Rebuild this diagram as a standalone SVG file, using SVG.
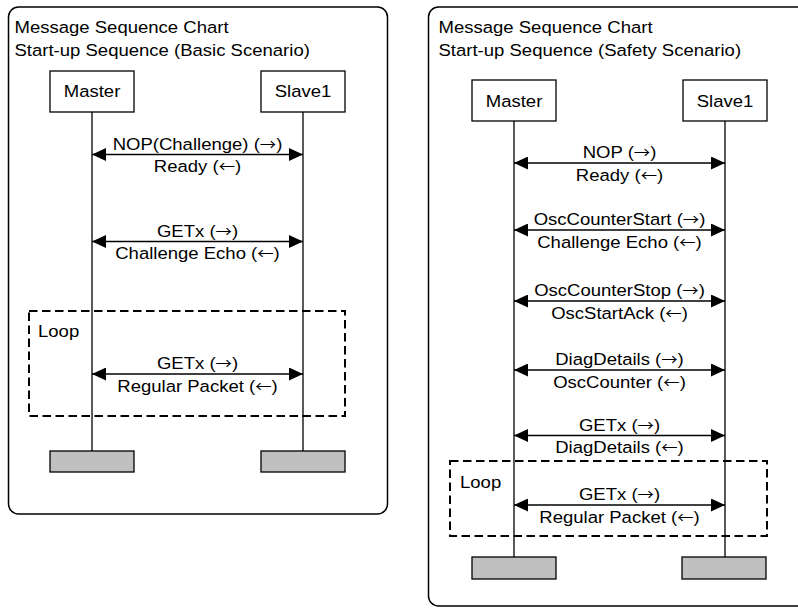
<svg xmlns="http://www.w3.org/2000/svg" width="798" height="608" viewBox="0 0 798 608">
<style>
  text { font-family: "Liberation Sans", Arial, sans-serif; font-size: 17px; fill: #000; }
  .m { text-anchor: middle; }
  .ar { font-family: "Noto Sans CJK SC", "DejaVu Sans", sans-serif; font-size: 15px; }
  .panel { fill: #fff; stroke: #000; stroke-width: 1.5; }
  .box { fill: #fff; stroke: #000; stroke-width: 1.3; }
  .end { fill: #c0c0c0; stroke: #000; stroke-width: 1.3; }
  .life { stroke: #000; stroke-width: 1.3; fill: none; }
  .loop { fill: none; stroke: #000; stroke-width: 2; stroke-dasharray: 8.5 4.5; }
  .msg { stroke: #000; stroke-width: 1.3; fill: none; marker-start: url(#ah); marker-end: url(#ah); }
</style>
<defs>
  <marker id="ah" viewBox="0 0 14 13" refX="14" refY="6.5" markerWidth="14" markerHeight="13" markerUnits="userSpaceOnUse" orient="auto-start-reverse">
    <path d="M0,0 L14,6.5 L0,13 z" fill="#000"/>
  </marker>
</defs>
<rect width="798" height="608" fill="#fff"/>

<!-- Left panel: Basic Scenario -->
<g id="panel-basic">
  <rect class="panel" x="8.5" y="7" width="379" height="507" rx="10"/>
  <text transform="translate(14.5 33) scale(1.09 1)">Message Sequence Chart</text>
  <text transform="translate(14.5 56) scale(1.09 1)">Start-up Sequence (Basic Scenario)</text>
</g>
<g id="basic-loop">
  <rect class="loop" x="29" y="311" width="316" height="105"/>
  <text transform="translate(38 337) scale(1.09 1)">Loop</text>
</g>
<g id="basic-master">
  <rect class="box" x="50" y="71" width="84" height="41"/>
  <text class="m" transform="translate(92 97) scale(1.09 1)">Master</text>
  <line class="life" x1="92" y1="112" x2="92" y2="451"/>
  <rect class="end" x="50" y="451" width="84" height="21"/>
</g>
<g id="basic-slave1">
  <rect class="box" x="261" y="71" width="84" height="41"/>
  <text class="m" transform="translate(303 97) scale(1.09 1)">Slave1</text>
  <line class="life" x1="303" y1="112" x2="303" y2="451"/>
  <rect class="end" x="261" y="451" width="84" height="21"/>
</g>
<g id="basic-connectors">
  <line class="msg" x1="92" y1="154.5" x2="303" y2="154.5"/>
  <text class="m" transform="translate(197.5 149.5) scale(1.09 1)">NOP(Challenge) (<tspan class="ar">→</tspan>)</text>
  <text class="m" transform="translate(197.5 172) scale(1.09 1)">Ready (<tspan class="ar">←</tspan>)</text>
  <line class="msg" x1="92" y1="241.5" x2="303" y2="241.5"/>
  <text class="m" transform="translate(197.5 236.5) scale(1.09 1)">GETx (<tspan class="ar">→</tspan>)</text>
  <text class="m" transform="translate(197.5 259) scale(1.09 1)">Challenge Echo (<tspan class="ar">←</tspan>)</text>
  <line class="msg" x1="92" y1="374" x2="303" y2="374"/>
  <text class="m" transform="translate(197.5 369) scale(1.09 1)">GETx (<tspan class="ar">→</tspan>)</text>
  <text class="m" transform="translate(197.5 391.5) scale(1.09 1)">Regular Packet (<tspan class="ar">←</tspan>)</text>
</g>

<!-- Right panel: Safety Scenario -->
<g id="panel-safety">
  <rect class="panel" x="428.5" y="7" width="400" height="599" rx="10"/>
  <text transform="translate(438.5 33) scale(1.09 1)">Message Sequence Chart</text>
  <text transform="translate(438.5 56) scale(1.09 1)">Start-up Sequence (Safety Scenario)</text>
</g>
<g id="safety-loop">
  <rect class="loop" x="450" y="461" width="317" height="75"/>
  <text transform="translate(460 488) scale(1.09 1)">Loop</text>
</g>
<g id="safety-master">
  <rect class="box" x="472" y="80" width="84" height="41"/>
  <text class="m" transform="translate(514 106.5) scale(1.09 1)">Master</text>
  <line class="life" x1="514" y1="121" x2="514" y2="557"/>
  <rect class="end" x="472" y="557" width="84" height="22"/>
</g>
<g id="safety-slave1">
  <rect class="box" x="683" y="80" width="84" height="41"/>
  <text class="m" transform="translate(725 106.5) scale(1.09 1)">Slave1</text>
  <line class="life" x1="725" y1="121" x2="725" y2="557"/>
  <rect class="end" x="682" y="557" width="84" height="22"/>
</g>
<g id="safety-connectors">
  <line class="msg" x1="514" y1="163" x2="725" y2="163"/>
  <text class="m" transform="translate(619.5 158) scale(1.09 1)">NOP (<tspan class="ar">→</tspan>)</text>
  <text class="m" transform="translate(619.5 180.5) scale(1.09 1)">Ready (<tspan class="ar">←</tspan>)</text>
  <line class="msg" x1="514" y1="230" x2="725" y2="230"/>
  <text class="m" transform="translate(619.5 225) scale(1.09 1)">OscCounterStart (<tspan class="ar">→</tspan>)</text>
  <text class="m" transform="translate(619.5 247.5) scale(1.09 1)">Challenge Echo (<tspan class="ar">←</tspan>)</text>
  <line class="msg" x1="514" y1="301" x2="725" y2="301"/>
  <text class="m" transform="translate(619.5 296) scale(1.09 1)">OscCounterStop (<tspan class="ar">→</tspan>)</text>
  <text class="m" transform="translate(619.5 318.5) scale(1.09 1)">OscStartAck (<tspan class="ar">←</tspan>)</text>
  <line class="msg" x1="514" y1="370" x2="725" y2="370"/>
  <text class="m" transform="translate(619.5 365) scale(1.09 1)">DiagDetails (<tspan class="ar">→</tspan>)</text>
  <text class="m" transform="translate(619.5 387.5) scale(1.09 1)">OscCounter (<tspan class="ar">←</tspan>)</text>
  <line class="msg" x1="514" y1="435.5" x2="725" y2="435.5"/>
  <text class="m" transform="translate(619.5 430.5) scale(1.09 1)">GETx (<tspan class="ar">→</tspan>)</text>
  <text class="m" transform="translate(619.5 453) scale(1.09 1)">DiagDetails (<tspan class="ar">←</tspan>)</text>
  <line class="msg" x1="514" y1="505" x2="725" y2="505"/>
  <text class="m" transform="translate(619.5 500) scale(1.09 1)">GETx (<tspan class="ar">→</tspan>)</text>
  <text class="m" transform="translate(619.5 522.5) scale(1.09 1)">Regular Packet (<tspan class="ar">←</tspan>)</text>
</g>
</svg>
